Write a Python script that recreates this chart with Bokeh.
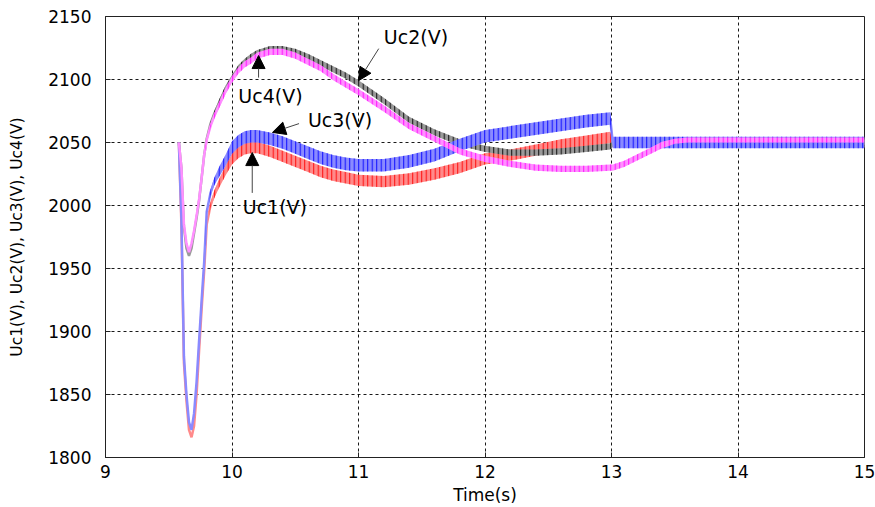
import numpy as np
from bokeh.plotting import figure
from bokeh.models import Arrow, NormalHead, Label, FixedTicker, Range1d
from bokeh.embed import file_html
from bokeh.resources import INLINE

# ---------------- data ----------------
t = [9.58, 9.60, 9.62, 9.64, 9.66, 9.68, 9.70, 9.72, 9.74, 9.76,
     9.78, 9.80, 9.83, 9.86, 9.90, 9.95, 10.0, 10.05, 10.1, 10.15,
     10.2, 10.3, 10.4, 10.5, 10.6, 10.7, 10.8, 10.9, 11.0, 11.2,
     11.4, 11.6, 11.8, 12.0, 12.2, 12.4, 12.6, 12.8, 12.99, 13.01,
     13.1, 13.2, 13.3, 13.4, 13.5, 13.6, 14.0, 14.5, 15.0]

uc1 = [2050, 1985, 1875, 1845, 1822, 1816, 1825, 1850, 1885, 1918,
       1948, 1985, 2000, 2009, 2018, 2028, 2037, 2042, 2045, 2046,
       2046, 2043, 2039, 2035, 2031, 2027, 2024, 2022, 2020, 2019,
       2021, 2025, 2030, 2037, 2040, 2044, 2048, 2051, 2054, 2049,
       2049, 2049, 2049, 2049, 2049, 2049, 2049, 2049, 2049]

uc2 = [2050, 2030, 1983, 1966, 1960, 1966, 1978, 1990, 2004, 2022,
       2040, 2053, 2065, 2073, 2082, 2093, 2101, 2109, 2114, 2118,
       2121, 2124, 2124, 2122, 2118, 2113, 2108, 2103, 2097, 2083,
       2068, 2058, 2050, 2045, 2042, 2042, 2043, 2045, 2047, 2049,
       2049, 2049, 2049, 2049, 2049, 2049, 2049, 2049, 2049]

uc3 = [2050, 1990, 1880, 1850, 1828, 1822, 1835, 1860, 1893, 1925,
       1955, 1995, 2010, 2019, 2027, 2036, 2046, 2051, 2054, 2055,
       2055, 2053, 2050, 2046, 2042, 2038, 2035, 2033, 2032, 2032,
       2035, 2040, 2048, 2055, 2058, 2061, 2064, 2067, 2069, 2050,
       2050, 2050, 2050, 2050, 2050, 2050, 2050, 2050, 2050]

uc4 = [2050, 2030, 1985, 1970, 1963, 1970, 1980, 1992, 2005, 2022,
       2040, 2052, 2063, 2071, 2080, 2091, 2100, 2107, 2112, 2115,
       2119, 2122, 2122, 2119, 2114, 2109, 2102, 2096, 2090, 2077,
       2063, 2053, 2043, 2037, 2033, 2030, 2029, 2029, 2030, 2030,
       2033, 2038, 2043, 2048, 2051, 2052, 2052, 2052, 2052]

# ripple half-amplitude of each voltage (V)
rip1 = [0, 0, 0, 0, 0, 0, 0, 0, 0, 0,
        1, 2, 2, 3, 3.5, 4, 4.5, 4.5, 4.5, 4.5,
        4.5, 4.5, 4.5, 4.5, 4.5, 4.5, 4.5, 4.5, 4.5, 4.5,
        4.5, 4.5, 4.5, 4.5, 4.5, 4.5, 4.5, 4.5, 4.5, 3,
        3, 3, 3, 3, 3, 3, 3, 3, 3]
rip2 = [0, 0, 0, 0, 0, 0, 0, 0, 0, 0,
        1, 1, 1.5, 2, 2.5, 2.5, 2.5, 2.5, 2.5, 2.5,
        2.5, 2.5, 2.5, 2.5, 2.5, 2.5, 2.5, 2.5, 2.5, 2.5,
        2.5, 2.5, 2.5, 2.5, 2.5, 2.5, 2.5, 2.5, 2.5, 2.5,
        2.5, 2.5, 2.5, 2.5, 2.5, 2.5, 2.5, 2.5, 2.5]
rip3 = [0, 0, 0, 0, 0, 0, 0, 0, 0, 0,
        1, 2, 2.5, 3, 4, 4.5, 5, 5, 5, 5,
        5, 5, 5, 5, 5, 5, 5, 5, 5, 5,
        5, 5, 5, 5, 5, 5, 5, 5, 5, 4.5,
        4.5, 4.5, 4.5, 4.5, 4.5, 4.5, 4.5, 4.5, 4.5]
rip4 = [0, 0, 0, 0, 0, 0, 0, 0, 0, 0,
        1, 1, 1.5, 2, 2.5, 2.5, 2.5, 2.5, 2.5, 2.5,
        2.5, 2.5, 2.5, 2.5, 2.5, 2.5, 2.5, 2.5, 2.5, 2.5,
        2.5, 2.5, 2.5, 2.5, 2.5, 2.5, 2.5, 2.5, 2.5, 2.5,
        2.5, 2.5, 2.5, 2.5, 2, 2, 2, 2, 2]

x_ticks = [9, 10, 11, 12, 13, 14, 15]
y_ticks = [1800, 1850, 1900, 1950, 2000, 2050, 2100, 2150]

FONT = "DejaVu Sans"

p = figure(width=875, height=507, output_backend="svg", toolbar_location=None,
           x_range=Range1d(9, 15), y_range=Range1d(1800, 2150),
           min_border_left=105, min_border_right=11, min_border_top=16, min_border_bottom=50)
p.background_fill_color = "white"
p.border_fill_color = "white"
p.outline_line_color = "#222222"
p.outline_line_width = 1

series = [
    (uc1, rip1, "#ff8a8a", "#ff0000"),
    (uc2, rip2, "#9a9a9a", "#000000"),
    (uc3, rip3, "#8a8aff", "#0000ff"),
    (uc4, rip4, "#ff90ff", "#ff00ff"),
]
tx = np.array(t)
for c, r, light, dark in series:
    c = np.array(c, dtype=float)
    r = np.array(r, dtype=float)
    p.line(tx, c, line_color=light, line_width=2.5)
    p.varea(x=tx, y1=c - r, y2=c + r, fill_color=light, fill_alpha=1,
            hatch_pattern="vertical_line", hatch_color=dark, hatch_scale=4.5,
            hatch_weight=1, hatch_alpha=0.9)

# axes
for ax in (p.xaxis[0], p.yaxis[0]):
    ax.axis_line_color = "#222222"
    ax.major_tick_in = 5
    ax.major_tick_out = 0
    ax.major_tick_line_color = "#222222"
    ax.minor_tick_line_color = None
    ax.major_label_text_font = FONT
    ax.major_label_text_font_size = "17px"
    ax.major_label_text_color = "black"
    ax.axis_label_text_font = FONT
    ax.axis_label_text_font_style = "normal"
    ax.axis_label_text_color = "black"

p.xaxis.ticker = FixedTicker(ticks=x_ticks)
p.yaxis.ticker = FixedTicker(ticks=y_ticks)
p.xaxis.axis_label = "Time(s)"
p.yaxis.axis_label = "Uc1(V), Uc2(V), Uc3(V), Uc4(V)"
p.xaxis.axis_label_text_font_size = "17px"
p.yaxis.axis_label_text_font_size = "15.5px"
p.xaxis.major_label_standoff = 7
p.yaxis.major_label_standoff = 14
p.xaxis.axis_label_standoff = 4
p.yaxis.axis_label_standoff = 19

p.xgrid.ticker = FixedTicker(ticks=x_ticks)
p.ygrid.ticker = FixedTicker(ticks=y_ticks)
for g in (p.xgrid[0], p.ygrid[0]):
    g.grid_line_color = "black"
    g.grid_line_dash = "3 3"
    g.grid_line_width = 1
    g.grid_line_alpha = 0.9

# annotations
def arrow(x0, y0, x1, y1):
    p.add_layout(Arrow(end=NormalHead(size=13, fill_color="black", line_color="black", line_width=1),
                       x_start=x0, y_start=y0, x_end=x1, y_end=y1,
                       line_color="#444444", line_width=1))

def label(x, y, s):
    p.add_layout(Label(x=x, y=y, text=s, text_font=FONT, text_font_size="19px",
                       text_color="black", text_baseline="middle", text_align="left"))

arrow(11.16, 2124.5, 11.0, 2099)
label(11.20, 2134, "Uc2(V)")
arrow(10.21, 2101.5, 10.21, 2119)
label(10.05, 2087, "Uc4(V)")
arrow(10.53, 2065, 10.32, 2058)
label(10.60, 2067.5, "Uc3(V)")
arrow(10.16, 2010, 10.16, 2042)
label(10.085, 1998.5, "Uc1(V)")

open("out.html", "w").write(file_html(p, INLINE))
